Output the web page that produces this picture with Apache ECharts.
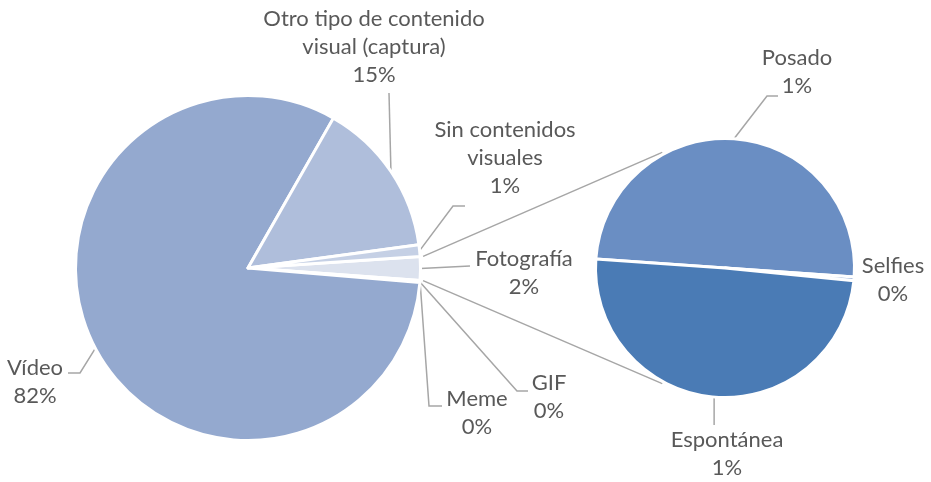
<!DOCTYPE html>
<html>
<head>
<meta charset="utf-8">
<script src="https://cdn.jsdelivr.net/npm/echarts@6/dist/echarts.min.js"></script>
<style>
  html, body { margin: 0; padding: 0; background: #fff; }
  #chart { width: 931px; height: 482px; }
</style>
</head>
<body>
<div id="chart"></div>
<script>
// main pie, clockwise from the split slice
const mainNames = ['Fotografía', 'Meme', 'GIF', 'Vídeo', 'Otro tipo de contenido\nvisual (captura)', 'Sin contenidos\nvisuales']
const mainColors = ['#dce2ee', '#c9d3e7', '#c9d3e7', '#94a9cf', '#afbedb', '#c5d0e5']
// second pie (breakdown of Fotografía), clockwise from the left
const fotoNames = ['Posado', 'Selfies', 'Espontánea']
const fotoValues = [1.1, 0.01, 1.09]
const fotoColors = ['#6a8ec3', '#8aa6d2', '#4a7bb5']

const fotoTotal = fotoValues.reduce((a, b) => a + b, 0)
const mainValues = [fotoTotal, 0.1, 0.1, 81.9, 14.6, 1.1]
const total = mainValues.reduce((a, b) => a + b, 0)

const pct = v => Math.round((v / total) * 100) + '%'

// geometry
const c1 = [248, 268], r1 = 172.5, start1 = 3.8
const c2 = [725, 268], r2 = 129.5, start2 = 176

// label placement (centres) and leader line bends
const mainLayout = [
  { x: 524, y: 273, mid: [470, 266], end: [470, 266] },
  { x: 477, y: 413, mid: [429, 406], end: [442, 406] },
  { x: 549, y: 397, mid: [517, 391], end: [528, 391] },
  { x: 35, y: 382, mid: [80, 373], end: [68, 373] },
  { x: 374, y: 47, mid: [389, 93], end: [389, 93] },
  { x: 505, y: 158, mid: [453, 206], end: [465, 206] },
]
const fotoLayout = [
  { x: 797, y: 72, mid: [767, 96], end: [778, 96] },
  { x: 893, y: 280 },
  { x: 727, y: 454, mid: null, end: [0, 425] },
]

function layoutFn(table) {
  return function (params) {
    const p = table[params.dataIndex]
    const out = { x: p.x, y: p.y, align: 'center', verticalAlign: 'middle' }
    const pts = params.labelLinePoints
    if (pts && p.end) {
      const p0 = pts[0]
      if (p.mid) out.labelLinePoints = [p0, p.mid, p.end]
      else out.labelLinePoints = [p0, [p0[0], p.end[1]], [p0[0], p.end[1]]]
    }
    return out
  }
}

const labelStyle = {
  show: true,
  position: 'outside',
  color: '#595959',
  fontFamily: 'Lato',
  fontSize: 22,
  lineHeight: 28,
  formatter: p => p.name + '\n' + pct(p.value),
}
const lineStyle = { show: true, lineStyle: { color: '#a6a6a6', width: 1.5 } }

// connector lines between the two pies
function pt(c, r, deg) {
  const a = (deg * Math.PI) / 180
  return [c[0] + r * Math.cos(a), c[1] - r * Math.sin(a)]
}
const fotoSpan = (360 * fotoTotal) / total
const a1 = pt(c1, r1 + 3, start1)
const a2 = pt(c1, r1 + 3, start1 - fotoSpan)
const b1 = pt(c2, r2 + 2, 118.5)
const b2 = pt(c2, r2 + 2, -118.5)

const chart = echarts.init(document.getElementById('chart'))
chart.setOption({
  animation: false,
  backgroundColor: '#fff',
  graphic: [
    { type: 'line', z: -1, shape: { x1: a1[0], y1: a1[1], x2: b1[0], y2: b1[1] }, style: { stroke: '#a6a6a6', lineWidth: 1.5 } },
    { type: 'line', z: -1, shape: { x1: a2[0], y1: a2[1], x2: b2[0], y2: b2[1] }, style: { stroke: '#a6a6a6', lineWidth: 1.5 } },
  ],
  series: [
    {
      type: 'pie',
      center: c1,
      radius: r1,
      startAngle: start1,
      clockwise: true,
      avoidLabelOverlap: false,
      itemStyle: { borderColor: '#fff', borderWidth: 3 },
      label: labelStyle,
      labelLine: lineStyle,
      labelLayout: layoutFn(mainLayout),
      emphasis: { disabled: true },
      data: mainNames.map((n, i) => ({ name: n, value: mainValues[i], itemStyle: { color: mainColors[i] } })),
    },
    {
      type: 'pie',
      center: c2,
      radius: r2,
      startAngle: start2,
      clockwise: true,
      avoidLabelOverlap: false,
      itemStyle: { borderColor: '#fff', borderWidth: 3 },
      label: labelStyle,
      labelLine: lineStyle,
      labelLayout: layoutFn(fotoLayout),
      emphasis: { disabled: true },
      data: fotoNames.map((n, i) => ({
        name: n,
        value: fotoValues[i],
        itemStyle: { color: fotoColors[i] },
        labelLine: fotoLayout[i].end ? undefined : { show: false },
      })),
    },
  ],
})
</script>
</body>
</html>
